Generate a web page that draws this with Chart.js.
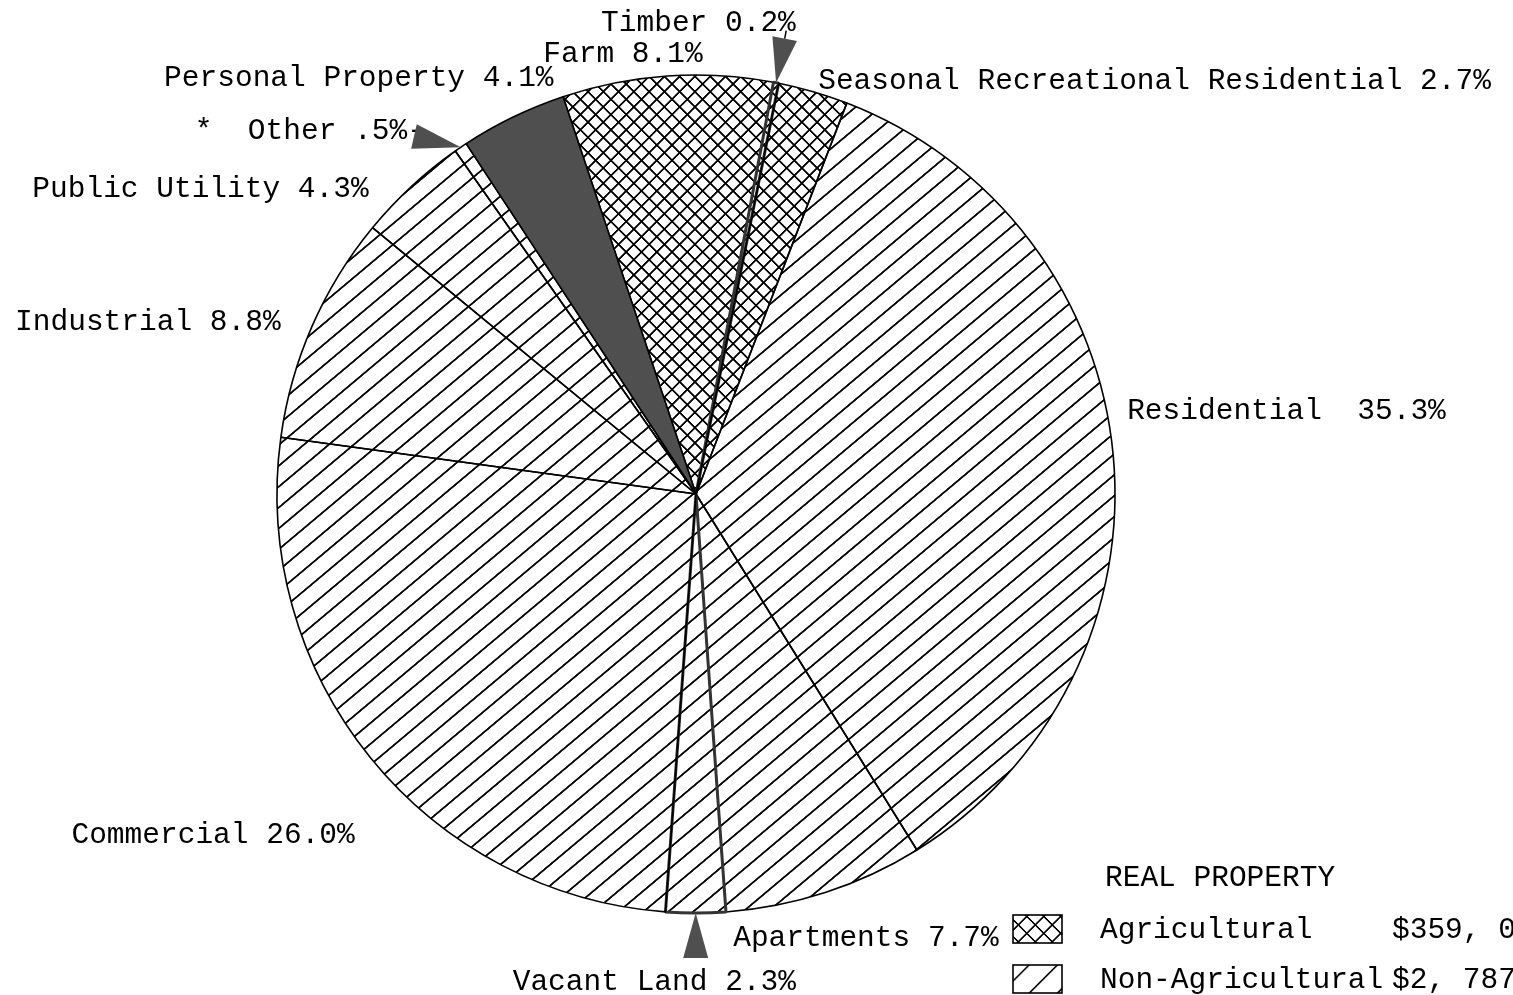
<!DOCTYPE html>
<html>
<head>
<meta charset="utf-8">
<script src="https://cdn.jsdelivr.net/npm/chart.js@4"></script>
<style>
  html, body { margin: 0; padding: 0; background: #fff; }
  #wrap { width: 1513px; height: 995px; position: relative; }
</style>
</head>
<body>
<div id="wrap"><canvas id="pie"></canvas></div>
<script>
// Data, clockwise from the top
const categories = [
  "Farm", "Timber", "Seasonal Recreational Residential", "Residential",
  "Apartments", "Vacant Land", "Commercial", "Industrial",
  "Public Utility", "Other", "Personal Property",
];
const shares = [8.1, 0.2, 2.7, 35.3, 7.7, 2.3, 26.0, 8.8, 4.3, 0.5, 4.1];
const shareLabels = ["8.1%", "0.2%", "2.7%", "35.3%", "7.7%", "2.3%", "26.0%", "8.8%", "4.3%", ".5%", "4.1%"];
// which fill each slice gets: agri, nonagri, personal
const fillKind = ["agri", "agri", "agri", "nonagri", "nonagri", "nonagri", "nonagri", "nonagri", "nonagri", "nonagri", "personal"];

const legendTitle = "REAL PROPERTY";
const legendNames = ["Agricultural", "Non-Agricultural"];
const legendValues = ["$359, 000, 000", "$2, 787, 000, 000"];

// Styles
const FONT = "29.5px 'Liberation Mono', 'DejaVu Sans Mono', monospace";
const GRAY = "#4f4f4f";

// label offsets from the outer middle point of each slice (left aligned, baseline)
const labelStyle = [
  { dx: -124, dy: -14 },                 // Farm
  { dx: -175, dy: -52 },                 // Timber
  { dx: 5, dy: -3 },                     // Seasonal
  { dx: 14, dy: -36, gap: "  " },        // Residential
  { dx: -92, dy: 53 },                   // Apartments
  { dx: -183, dy: 77 },                  // Vacant Land
  { dx: -299, dy: 85 },                  // Commercial
  { dx: -297, dy: 4 },                   // Industrial
  { dx: -379, dy: 10 },                  // Public Utility
  { dx: -266, dy: -8, pre: "*  ", post: "-" }, // Other
  { dx: -349, dy: -31 },                 // Personal Property
];

// pointer triangles: slice index, direction (deg, canvas) or radial
const pointers = [
  { index: 1, len: 45, base: 25, tail: 8 },
  { index: 5, len: 45, base: 25 },
  { index: 9, len: 48, base: 25, dir: 193 },
];

// line pattern: tile of horizontal (and vertical) lines, rotated
function makeHatch(ctx, gap, lw, angle, cross) {
  const tile = 32;
  const c = document.createElement("canvas");
  c.width = tile; c.height = tile;
  const g = c.getContext("2d");
  g.fillStyle = "#000";
  g.fillRect(0, tile / 2 - (lw * tile / gap) / 2, tile, lw * tile / gap);
  if (cross) g.fillRect(tile / 2 - (lw * tile / gap) / 2, 0, lw * tile / gap, tile);
  const p = ctx.createPattern(c, "repeat");
  p.setTransform(new DOMMatrix().rotateSelf(angle).scaleSelf(gap / tile));
  return p;
}

const canvas = document.getElementById("pie");
const ctx = canvas.getContext("2d");
const fills = {
  agri: makeHatch(ctx, 10.8, 1.8, 45, true),
  nonagri: makeHatch(ctx, 16, 1.8, -40, false),
  personal: GRAY,
};

const borderWidths = categories.map((c, i) => (i === 1 || i === 5 ? 3 : 1.6));
const borderColors = categories.map((c, i) => (i === 1 || i === 5 ? "#333" : "#000"));

const annotate = {
  id: "annotate",
  afterDatasetsDraw(chart) {
    const c = chart.ctx;
    const arcs = chart.getDatasetMeta(0).data;
    c.save();
    c.font = FONT;
    c.fillStyle = "#000";
    c.textBaseline = "alphabetic";
    c.textAlign = "left";

    const outerPoint = (arc) => {
      const mid = (arc.startAngle + arc.endAngle) / 2;
      return { x: arc.x + arc.outerRadius * Math.cos(mid), y: arc.y + arc.outerRadius * Math.sin(mid), mid };
    };

    // slice labels
    arcs.forEach((arc, i) => {
      const s = labelStyle[i];
      const p = outerPoint(arc);
      const txt = (s.pre || "") + categories[i] + (s.gap || " ") + shareLabels[i] + (s.post || "");
      c.fillText(txt, p.x + s.dx, p.y + s.dy);
    });

    // pointer triangles
    pointers.forEach((ptr) => {
      const p = outerPoint(arcs[ptr.index]);
      const a = ptr.dir !== undefined ? (ptr.dir * Math.PI) / 180 : p.mid;
      const ux = Math.cos(a), uy = Math.sin(a);
      const bx = p.x + ux * ptr.len, by = p.y + uy * ptr.len;
      const hx = -uy * ptr.base / 2, hy = ux * ptr.base / 2;
      c.fillStyle = GRAY;
      c.beginPath();
      c.moveTo(p.x, p.y);
      c.lineTo(bx + hx, by + hy);
      c.lineTo(bx - hx, by - hy);
      c.closePath();
      c.fill();
      if (ptr.tail) {
        c.strokeStyle = "#000";
        c.lineWidth = 1.5;
        c.beginPath();
        c.moveTo(bx, by);
        c.lineTo(bx + ux * ptr.tail, by + uy * ptr.tail);
        c.stroke();
      }
    });

    // legend, bottom right
    c.fillStyle = "#000";
    const lx = 1013, tx = 1100;
    c.fillText(legendTitle, 1105, 886);
    const legendFills = [makeHatch(c, 12, 1.6, 45, true), makeHatch(c, 20, 1.6, -45, false)];
    legendNames.forEach((name, i) => {
      const y = 915 + i * 50;
      c.fillStyle = legendFills[i];
      c.fillRect(lx, y, 49, 28);
      c.strokeStyle = "#000";
      c.lineWidth = 1.6;
      c.strokeRect(lx, y, 49, 28);
      c.fillStyle = "#000";
      c.fillText(name, tx, y + 23);
      c.fillText(legendValues[i], 1392, y + 23);
    });
    c.restore();
  },
};

new Chart(canvas, {
  type: "pie",
  data: {
    labels: categories,
    datasets: [{
      data: shares,
      backgroundColor: fillKind.map((k) => fills[k]),
      borderColor: borderColors,
      borderWidth: borderWidths,
      borderAlign: "center",
    }],
  },
  options: {
    responsive: true,
    maintainAspectRatio: false,
    animation: false,
    events: [],
    rotation: -18.5,
    radius: 419,
    layout: { padding: { left: 277, right: 398, top: 75, bottom: 82 } },
    plugins: {
      legend: { display: false },
      tooltip: { enabled: false },
    },
  },
  plugins: [annotate],
});
</script>
</body>
</html>
